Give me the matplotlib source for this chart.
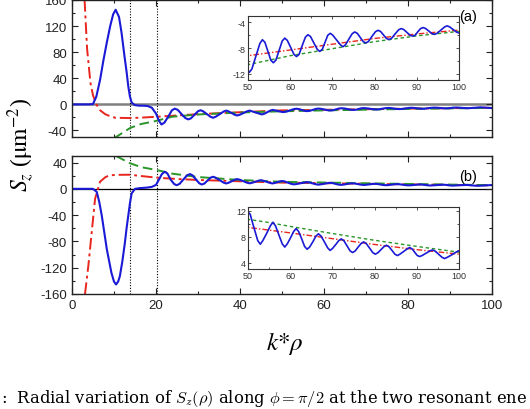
import matplotlib.pyplot as plt
from matplotlib.ticker import MultipleLocator

plt.rcParams["font.family"] = ["Liberation Sans", "DejaVu Sans"]
plt.rcParams["axes.unicode_minus"] = False

# (a) blue: S_z, solid
a_x = [0, 4, 5, 5.8, 6.7, 7.5, 8.3, 9.1, 9.8, 10.4, 11.2, 11.8, 12.5, 13.0,
       13.4, 13.8, 14.2, 14.9, 16, 17, 18, 19, 20, 20.7, 21.3, 22.0, 22.9,
       23.8, 24.5, 25.2, 26.1, 27.0, 27.7, 28.3, 29.15, 30.0, 30.6, 31.2,
       32.1, 33.0, 33.6, 34.2, 35.15, 36.1, 36.7, 37.3, 38.0, 38.7, 39.3,
       39.9, 40.8, 41.7, 42.3, 42.9, 43.75, 44.6, 45.2, 45.8, 46.5, 47.2,
       47.8, 48.4, 49.05, 49.7, 50.3, 50.9, 51.85, 52.8, 53.4, 54.0, 54.7,
       55.4, 56.0, 56.6, 57.35, 58.1, 58.7, 59.3, 60.1, 60.9, 61.5, 62.1,
       62.85, 63.6, 64.2, 64.8, 65.6, 66.4, 67.0, 67.6, 68.25, 68.9, 69.5,
       70.1, 71.0, 71.9, 72.5, 73.1, 73.9, 74.7, 75.3, 75.9, 76.6, 77.3,
       77.9, 78.5, 79.35, 80.2, 80.8, 81.4, 82.1, 82.8, 83.4, 84.0, 84.85,
       85.7, 86.3, 86.9, 87.65, 88.4, 89.0, 89.6, 90.25, 90.9, 91.5, 92.1,
       92.85, 93.6, 94.2, 94.8, 95.7, 96.6, 97.2, 97.8, 98.6, 99.4, 100]
a_blue = [0, 0, 0.5, 12, 38, 68, 95, 120, 138, 145, 134, 110, 74, 50,
          28, 12, 3, -1, -2, -2, -2.5, -5, -14, -25, -30.8, -28, -19,
          -9, -6.5, -8.5, -15, -21, -23, -21.5, -16, -10.5, -9, -10.5,
          -14.8, -19, -20.5, -19, -15, -11, -9.5, -10.8, -13.3, -15.7, -17,
          -16, -13.3, -10.6, -9.5, -10.7, -12.5, -14.3, -15.4, -14.3, -12, -9.6,
          -8.5, -9.2, -10.2, -11.2, -11.8, -11.3, -9.3, -7.3, -6.7, -7.1, -8.5,
          -9.9, -10.3, -9.9, -8.4, -6.9, -6.45, -6.8, -7.9, -9.0, -9.33, -9.0,
          -7.6, -6.3, -5.92, -6.2, -7.2, -8.2, -8.53, -8.2, -7.1, -6.0, -5.7,
          -6.0, -6.75, -7.5, -7.79, -7.5, -6.6, -5.75, -5.49, -5.7, -6.35, -7.0,
          -7.2, -7.0, -6.2, -5.45, -5.23, -5.4, -5.95, -6.5, -6.67, -6.5, -5.8,
          -5.15, -4.96, -5.1, -5.55, -6.0, -6.13, -6.0, -5.45, -4.95, -4.8, -4.95,
          -5.35, -5.75, -5.87, -5.7, -5.2, -4.7, -4.53, -4.7, -5.1, -5.5, -5.65]

# (a) red: dash-dot
a_red_x = [3.0, 3.6, 4.4, 5.0, 5.8, 6.7, 7.9, 9.0, 10.3, 13.8, 15.9, 20, 25,
           30, 40, 50, 60, 70, 80, 90, 100]
a_red = [160, 85, 33, 14, 0, -9, -15, -18, -20.5, -21, -20.5, -19, -17,
         -15, -12, -9.2, -8.3, -7.4, -6.5, -5.8, -5.2]

# (a) green: dashed
a_grn_x = [10.0, 13.9, 16.5, 19.8, 23.8, 30, 40, 50, 60, 70, 80, 90, 100]
a_grn = [-52, -36, -30, -25.7, -19, -15.5, -12.5, -10.6, -9.2, -8.1,
         -7.0, -6.1, -5.4]

# (b) blue
b_x = [0, 4, 5, 5.9, 6.5, 7.1, 7.7, 8.3, 8.9, 9.4, 10.0, 10.5, 11.0, 11.4,
       12.0, 12.6, 13.0, 13.4, 13.8, 14.2, 15, 16, 17, 18, 19, 20, 20.7,
       21.4, 22.1, 22.7, 23.5, 24.3, 24.9, 25.6, 26.5, 27.4, 28.1, 28.7,
       29.5, 30.3, 30.9, 31.5, 32.25, 33.0, 33.6, 34.2, 35.15, 36.1, 36.7,
       37.3, 38.0, 38.7, 39.3, 39.9, 40.8, 41.7, 42.3, 42.9, 43.65, 44.4,
       45.0, 45.6, 46.35, 47.1, 47.7, 48.3, 49.1, 49.9, 50.5, 51.4, 52.3,
       52.9, 53.5, 54.4, 55.3, 55.9, 56.5, 57.3, 58.1, 58.7, 59.3, 60.05,
       60.8, 61.4, 62.0, 62.7, 63.4, 64.0, 64.6, 65.35, 66.1, 66.7, 67.3,
       68.1, 68.85, 69.45, 70.05, 70.8, 71.5, 72.1, 72.7, 73.45, 74.2, 74.8,
       75.4, 76.1, 76.8, 77.4, 78.0, 78.8, 79.55, 80.15, 80.75, 81.5, 82.2,
       82.8, 83.4, 84.1, 84.8, 85.4, 86.0, 86.85, 87.7, 88.3, 88.9, 89.5,
       90.1, 90.7, 91.3, 92.2, 93.1, 93.7, 94.3, 95.15, 96.0, 96.6, 97.2,
       98.3, 99.4, 100]
b_blue = [0, 0, 0, -4.6, -20, -41, -66, -92, -112, -128, -141, -145.5, -141,
          -133, -110, -82, -60, -41, -22, -7, 0, 1, 1.5, 2, 3, 6, 14,
          22.5, 26, 23.5, 14, 7.5, 5.5, 7.5, 14, 20.5, 22.5, 20.5,
          14.5, 8.5, 6.6, 8, 12.5, 17, 18.4, 17, 13.3, 9.5, 8.2,
          9.3, 11.5, 13.7, 14.8, 14, 11.6, 9.3, 8.4, 9.3, 10.8, 12.3,
          13.2, 12.2, 10.7, 9.2, 8.2, 9.0, 10.6, 11.9, 11.5, 9.4, 7.4,
          6.84, 7.4, 8.5, 9.7, 10.25, 9.7, 8.3, 6.9, 6.4, 6.9, 7.8,
          8.8, 9.27, 8.8, 7.7, 6.5, 6.06, 6.4, 7.2, 8.1, 8.45, 8.1,
          7.2, 6.3, 5.88, 6.2, 6.8, 7.4, 7.66, 7.4, 6.6, 5.8, 5.55,
          5.8, 6.4, 6.95, 7.2, 6.95, 6.25, 5.55, 5.3, 5.5, 6.0, 6.45,
          6.68, 6.45, 5.9, 5.3, 5.08, 5.3, 5.7, 6.1, 6.33, 6.1, 5.6,
          5.1, 4.93, 5.1, 5.45, 5.8, 5.95, 5.8, 5.3, 4.8, 4.62, 4.8,
          5.2, 5.65, 5.8]

# (b) red
b_red_x = [3.1, 3.9, 4.7, 5.5, 6.7, 8.0, 9.0, 10.5, 13.8, 16.5, 20.2, 25,
           30, 40, 50, 60, 70, 80, 90, 100]
b_red = [-160, -117, -66, -15, 11, 18, 20.5, 21.3, 21.5, 19.5, 17, 15,
         13.5, 11.5, 9.45, 8.6, 7.7, 6.8, 6.0, 5.3]

# (b) green
b_grn_x = [10.5, 13.8, 16.5, 20.2, 24, 30, 40, 50, 55, 60, 70, 80, 90, 100]
b_grn = [50, 39, 33, 28.6, 23, 18, 13.5, 10.7, 10.2, 9.6, 8.5, 7.45, 6.5, 5.6]

x_ticks = [0, 20, 40, 60, 80, 100]
a_yticks = [-40, 0, 40, 80, 120, 160]
b_yticks = [-160, -120, -80, -40, 0, 40]
vlines = [13.9, 20.3]

blue = "#1a1ad6"
red = "#e8261e"
green = "#2a962a"

fig = plt.figure(figsize=(5.3, 4.1), dpi=100)
ax_a = fig.add_axes([0.1358, 0.6634, 0.7925, 0.3342])
ax_b = fig.add_axes([0.1358, 0.2805, 0.7925, 0.3366])


def style_main(ax, yticks, ylim):
    ax.set_xlim(0, 100)
    ax.set_ylim(*ylim)
    ax.set_xticks(x_ticks)
    ax.set_yticks(yticks)
    ax.xaxis.set_minor_locator(MultipleLocator(10))
    ax.yaxis.set_minor_locator(MultipleLocator(20))
    ax.tick_params(which="both", direction="in", top=True, right=True,
                   labelsize=9.5, width=0.8, colors="#222222")
    ax.tick_params(which="major", length=4)
    ax.tick_params(which="minor", length=2.5)
    for s in ax.spines.values():
        s.set_linewidth(1.0)
        s.set_color("#222222")
    for v in vlines:
        ax.axvline(v, color="black", linestyle=(0, (1, 1.5)), linewidth=0.8)


style_main(ax_a, a_yticks, (-50, 160))
style_main(ax_b, b_yticks, (-160, 50))
ax_a.tick_params(labelbottom=False)

ax_a.axhline(0, color="#808080", linewidth=1.8, zorder=1)
ax_b.axhline(0, color="black", linewidth=0.9, zorder=1)

ax_a.plot(a_red_x, a_red, color=red, linestyle=(0, (6, 2, 1.5, 2)), linewidth=1.4)
ax_a.plot(a_grn_x, a_grn, color=green, linestyle=(0, (5, 2.5)), linewidth=1.4)
ax_a.plot(a_x, a_blue, color=blue, linewidth=1.5)

ax_b.plot(b_red_x, b_red, color=red, linestyle=(0, (6, 2, 1.5, 2)), linewidth=1.4)
ax_b.plot(b_grn_x, b_grn, color=green, linestyle=(0, (5, 2.5)), linewidth=1.4)
ax_b.plot(b_x, b_blue, color=blue, linewidth=1.5)

ax_a.text(0.965, 0.935, "(a)", transform=ax_a.transAxes, ha="right", va="top",
          fontsize=10.5)
ax_b.text(0.965, 0.905, "(b)", transform=ax_b.transAxes, ha="right", va="top",
          fontsize=10.5)

# insets
in_a = fig.add_axes([0.468, 0.8024, 0.398, 0.156])
in_b = fig.add_axes([0.468, 0.3415, 0.398, 0.151])

for ax, xs, yb, xr, yr, xg, yg, lim, ytk in [
        (in_a, a_x, a_blue, a_red_x, a_red, a_grn_x, a_grn, (-13, -3), [-12, -8, -4]),
        (in_b, b_x, b_blue, b_red_x, b_red, b_grn_x, b_grn, (3, 12.6), [4, 8, 12])]:
    ax.plot(xr, yr, color=red, linestyle=(0, (4, 1.5, 1, 1.5)), linewidth=1.0)
    ax.plot(xg, yg, color=green, linestyle=(0, (2.5, 2)), linewidth=1.0)
    ax.plot(xs, yb, color=blue, linewidth=1.2)
    ax.set_xlim(50, 100)
    ax.set_ylim(*lim)
    ax.set_xticks([50, 60, 70, 80, 90, 100])
    ax.set_yticks(ytk)
    ax.xaxis.set_minor_locator(MultipleLocator(5))
    ax.yaxis.set_minor_locator(MultipleLocator(2))
    ax.tick_params(which="both", direction="in", top=True, right=True,
                   labelsize=6.5, pad=1.5, width=0.6, colors="#333333")
    ax.tick_params(which="major", length=2.5)
    ax.tick_params(which="minor", length=1.5)
    for s in ax.spines.values():
        s.set_linewidth(0.8)
        s.set_color("#333333")

fig.text(0.04, 0.646, r"$S_z$ ($\mathrm{\mu m}^{-2}$)", rotation=90,
         ha="center", va="center", fontsize=17, family="Liberation Serif",
         math_fontfamily="stix")
fig.text(0.538, 0.162, r"$k{*}\rho$", ha="center", va="center", fontsize=18,
         math_fontfamily="stix")

fig.text(0.002, 0.016, r":  Radial variation of $S_z(\rho)$ along $\phi = \pi/2$ at the two resonant ene",
         ha="left", va="baseline", fontsize=11.8, family="DejaVu Serif",
         math_fontfamily="cm")

fig.savefig("out.png", dpi=100)
